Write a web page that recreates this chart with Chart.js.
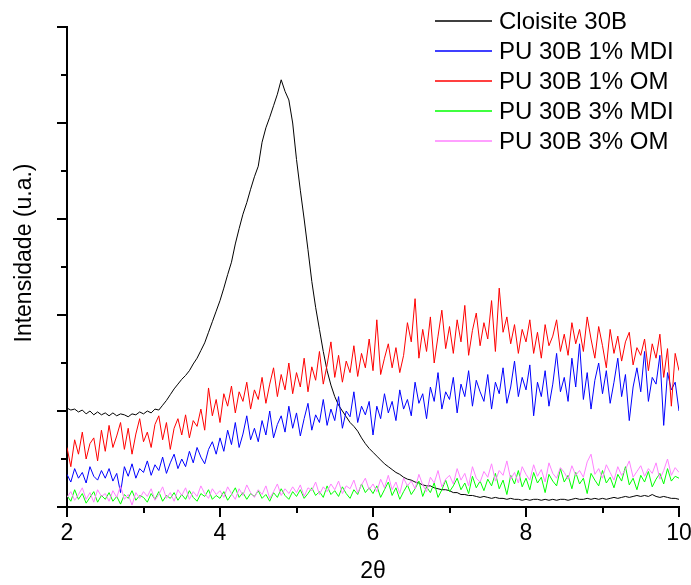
<!DOCTYPE html>
<html>
<head>
<meta charset="utf-8">
<script src="https://cdn.jsdelivr.net/npm/chart.js@4"></script>
<style>
  html, body { margin: 0; padding: 0; background: #fff; }
  #xrd { display: block; }
</style>
</head>
<body>
<canvas id="xrd" width="691" height="585"></canvas>
<script>
// 2theta grid of the scan, 2 to 10 in 0.05 steps
const twoTheta = Array.from({length: 161}, (_, i) => +(2 + i * 0.05).toFixed(2));

const seriesNames = ["Cloisite 30B", "PU 30B 1% MDI", "PU 30B 1% OM", "PU 30B 3% MDI", "PU 30B 3% OM"];
const seriesColors = ["#000000", "#0000ff", "#ff0000", "#00ff00", "#ff80ff"];

const xTickValues = [2, 3, 4, 5, 6, 7, 8, 9, 10];
const yTickValues = [0, 0.5, 1, 1.5, 2, 2.5, 3, 3.5, 4, 4.5, 5];

// intensities (arbitrary units)
const cloisite = [
  1.03, 1.01, 1.02, 0.99, 1.01, 0.97, 1.00, 0.96, 0.99, 0.96,
  0.98, 0.95, 0.98, 0.95, 0.97, 0.96, 0.94, 0.97, 0.96, 0.99,
  0.97, 1.00, 0.98, 1.02, 1.01, 1.06, 1.11, 1.17, 1.23, 1.28,
  1.33, 1.37, 1.42, 1.49, 1.55, 1.63, 1.71, 1.82, 1.93, 2.04,
  2.15, 2.28, 2.42, 2.55, 2.74, 2.90, 3.05, 3.17, 3.31, 3.44,
  3.55, 3.80, 3.95, 4.06, 4.18, 4.30, 4.45, 4.33, 4.24, 4.00,
  3.62, 3.30, 3.00, 2.68, 2.35, 2.08, 1.85, 1.62, 1.42, 1.27,
  1.15, 1.06, 1.00, 0.94, 0.88, 0.84, 0.79, 0.72, 0.66, 0.61,
  0.57, 0.53, 0.49, 0.45, 0.42, 0.39, 0.36, 0.34, 0.31, 0.29,
  0.28, 0.26, 0.25, 0.23, 0.22, 0.22, 0.20, 0.19, 0.18, 0.18,
  0.17, 0.15, 0.15, 0.13, 0.13, 0.12, 0.12, 0.11, 0.10, 0.11,
  0.10, 0.09, 0.10, 0.09, 0.09, 0.08, 0.09, 0.08, 0.08, 0.07,
  0.08, 0.07, 0.08, 0.08, 0.07, 0.08, 0.07, 0.08, 0.07, 0.08,
  0.08, 0.07, 0.08, 0.09, 0.08, 0.08, 0.09, 0.08, 0.09, 0.08,
  0.09, 0.08, 0.09, 0.10, 0.09, 0.10, 0.11, 0.10, 0.11, 0.12,
  0.11, 0.12, 0.11, 0.13, 0.11, 0.10, 0.11, 0.10, 0.09, 0.09,
  0.08
];

const pu1MDI = [
  0.34, 0.26, 0.40, 0.30, 0.36, 0.25, 0.42, 0.32, 0.28, 0.38,
  0.30, 0.40, 0.27, 0.35, 0.15, 0.42, 0.32, 0.45, 0.30, 0.40,
  0.36, 0.48, 0.33, 0.44, 0.38, 0.52, 0.35, 0.46, 0.55, 0.40,
  0.50, 0.42, 0.58, 0.46, 0.62, 0.52, 0.45, 0.60, 0.68, 0.55,
  0.72, 0.58, 0.80, 0.65, 0.88, 0.62, 0.76, 0.95, 0.70, 0.82,
  0.68, 0.90, 0.75, 1.00, 0.72, 0.86, 0.95, 0.78, 1.05, 0.82,
  0.98, 0.74, 0.92, 1.08, 0.80, 0.96, 0.88, 1.12, 0.85, 1.02,
  0.90, 1.15, 0.82, 1.00, 0.94, 1.20, 0.88, 1.05, 0.96, 1.10,
  0.75, 1.05, 0.92, 1.18, 0.98, 1.10, 0.90, 1.22, 1.02, 1.12,
  0.95, 1.30, 1.08, 1.18, 0.92, 1.25, 1.10, 1.40, 1.02, 1.20,
  1.12, 1.35, 0.98, 1.28, 1.15, 1.42, 1.05, 1.32, 1.20, 1.10,
  1.38, 1.02, 1.30, 1.18, 1.45, 1.08, 1.25, 1.52, 1.15, 1.35,
  1.22, 1.48, 0.95, 1.30, 1.15, 1.42, 1.05, 1.28, 1.60, 1.20,
  1.35, 1.10, 1.55, 1.25, 1.70, 1.12, 1.40, 1.02, 1.32, 1.50,
  1.18, 1.42, 1.08, 1.30, 1.55, 1.15, 1.38, 0.90, 1.25, 1.45,
  1.20, 1.62, 1.10, 1.35, 1.28, 1.58, 0.85, 1.40, 1.22, 1.30,
  1.00
];

const pu1OM = [
  0.62, 0.42, 0.70, 0.55, 0.78, 0.50, 0.66, 0.72, 0.48, 0.80,
  0.58, 0.85, 0.62, 0.74, 0.88, 0.60, 0.82, 0.55, 0.76, 0.92,
  0.68, 0.78, 0.62, 0.86, 0.95, 0.70, 0.88, 0.60, 0.82, 0.92,
  0.75, 0.96, 0.72, 0.90, 0.84, 1.02, 0.80, 1.24, 0.95, 1.12,
  0.88, 1.18, 1.05, 1.26, 0.98, 1.20, 1.10, 1.30, 1.02, 1.22,
  1.12, 1.35, 1.08, 1.28, 1.45, 1.15, 1.38, 1.22, 1.50, 1.18,
  1.40, 1.25, 1.55, 1.20, 1.46, 1.32, 1.62, 1.28, 1.48, 1.72,
  1.35, 1.58, 1.30, 1.52, 1.40, 1.68, 1.36, 1.60, 1.45, 1.75,
  1.42, 1.95, 1.38, 1.55, 1.70, 1.45, 1.66, 1.40, 1.58, 1.92,
  1.72, 2.17, 1.55, 1.85, 1.62, 1.98, 1.50, 1.78, 2.05, 1.65,
  1.88, 1.60, 1.95, 1.72, 2.10, 1.58, 1.84, 2.02, 1.68, 1.92,
  1.75, 2.15, 1.62, 2.28, 1.82, 1.98, 1.70, 1.90, 1.60, 1.85,
  1.72, 1.95, 1.60, 1.82, 1.55, 1.90, 1.68, 1.78, 1.95, 1.62,
  1.80, 1.58, 1.92, 1.70, 1.85, 1.62, 1.98, 1.75, 1.55, 1.88,
  1.68, 1.45, 1.85, 1.60, 1.78, 1.52, 1.72, 1.82, 1.48, 1.66,
  1.58, 1.75, 1.42, 1.70, 1.55, 1.80, 1.35, 1.65, 1.05, 1.60,
  1.42
];

const pu3MDI = [
  0.12, 0.06, 0.18, 0.08, 0.14, 0.04, 0.10, 0.16, 0.05, 0.12,
  0.08, 0.15, 0.06, 0.11, 0.03, 0.13, 0.09, 0.17, 0.07, 0.12,
  0.10, 0.05, 0.14, 0.08, 0.16, 0.06, 0.12, 0.09, 0.15, 0.07,
  0.13, 0.08, 0.17, 0.10, 0.06, 0.14, 0.11, 0.18, 0.08, 0.12,
  0.09, 0.16, 0.07, 0.13, 0.20, 0.10, 0.15, 0.08, 0.14, 0.11,
  0.17, 0.09, 0.13, 0.06, 0.15, 0.10, 0.19, 0.12, 0.08, 0.16,
  0.11, 0.18, 0.09, 0.14, 0.20, 0.12, 0.16, 0.10, 0.22, 0.13,
  0.17, 0.11, 0.21, 0.14, 0.09, 0.18, 0.13, 0.24, 0.15, 0.20,
  0.14, 0.22, 0.10, 0.18, 0.26, 0.12, 0.20, 0.08, 0.16, 0.23,
  0.13, 0.19, 0.27, 0.11, 0.21, 0.15, 0.25, 0.10, 0.18, 0.28,
  0.16, 0.22, 0.30, 0.18, 0.25, 0.14, 0.32, 0.20, 0.27, 0.17,
  0.29, 0.22, 0.35, 0.19, 0.28, 0.13, 0.33, 0.24, 0.38, 0.21,
  0.30, 0.18, 0.36, 0.25, 0.31, 0.15, 0.34, 0.27, 0.22, 0.40,
  0.26, 0.33, 0.19, 0.36, 0.24, 0.30, 0.14, 0.35, 0.28, 0.22,
  0.38, 0.25, 0.31, 0.20, 0.34, 0.27, 0.42, 0.23, 0.30, 0.18,
  0.33, 0.26, 0.37, 0.21, 0.29, 0.35, 0.24, 0.40, 0.27, 0.32,
  0.30
];

const pu3OM = [
  0.10, 0.16, 0.07, 0.13, 0.20, 0.08, 0.15, 0.05, 0.18, 0.11,
  0.14, 0.06, 0.17, 0.10, 0.22, 0.08, 0.13, 0.02, 0.15, 0.09,
  0.16, 0.11, 0.19, 0.07, 0.13, 0.21, 0.09, 0.15, 0.06, 0.18,
  0.12, 0.20, 0.08, 0.16, 0.11, 0.22, 0.14, 0.09, 0.19, 0.13,
  0.17, 0.10, 0.21, 0.14, 0.08, 0.19, 0.12, 0.23, 0.15, 0.10,
  0.18, 0.13, 0.22, 0.09, 0.16, 0.24, 0.12, 0.19, 0.14, 0.21,
  0.15, 0.23, 0.11, 0.20, 0.17, 0.26, 0.13, 0.21, 0.16, 0.24,
  0.18, 0.27, 0.14, 0.22, 0.19, 0.28, 0.15, 0.23, 0.30, 0.18,
  0.24, 0.16, 0.29, 0.20, 0.33, 0.18, 0.26, 0.14, 0.30, 0.22,
  0.27, 0.19, 0.34, 0.23, 0.16, 0.31, 0.25, 0.38, 0.21, 0.29,
  0.33, 0.24, 0.40, 0.28, 0.35, 0.22, 0.42, 0.30, 0.26, 0.37,
  0.31, 0.45, 0.27, 0.38, 0.33, 0.48, 0.29, 0.36, 0.25, 0.42,
  0.34, 0.28, 0.44, 0.32, 0.39, 0.26, 0.46, 0.35, 0.30, 0.41,
  0.36, 0.29, 0.43, 0.33, 0.38, 0.31, 0.47, 0.55, 0.34, 0.40,
  0.30, 0.44, 0.36, 0.28, 0.42, 0.33, 0.39, 0.48, 0.31, 0.37,
  0.43, 0.32, 0.40, 0.35, 0.46, 0.29, 0.38, 0.50, 0.33, 0.41,
  0.36
];

const allSeries = [cloisite, pu1MDI, pu1OM, pu3MDI, pu3OM];
const FONT = "'Liberation Sans', Arial, sans-serif";

function toPoints(values) {
    return values.map((v, i) => ({x: twoTheta[i], y: v}));
}

// draws the outward ticks (long/short), the y title and the legend
const xrdDecor = {
    id: "xrdDecor",
    afterDraw(chart) {
        const ctx = chart.ctx;
        const area = chart.chartArea;
        const xs = chart.scales.x;
        const ys = chart.scales.y;
        ctx.save();
        ctx.strokeStyle = "#000";
        ctx.lineWidth = 2;
        ctx.beginPath();
        xTickValues.forEach(v => {
            const px = Math.round(xs.getPixelForValue(v));
            const len = v % 2 === 0 ? 10 : 6;
            ctx.moveTo(px, area.bottom);
            ctx.lineTo(px, area.bottom + len);
        });
        yTickValues.forEach(v => {
            const py = Math.round(ys.getPixelForValue(v));
            const len = v % 1 === 0 ? 10 : 6;
            ctx.moveTo(area.left, py);
            ctx.lineTo(area.left - len, py);
        });
        ctx.stroke();

        // y axis title
        ctx.fillStyle = "#000";
        ctx.font = "23px " + FONT;
        ctx.textAlign = "center";
        ctx.textBaseline = "middle";
        ctx.translate(25, 253);
        ctx.rotate(-Math.PI / 2);
        ctx.fillText("Intensidade (u.a.)", 0, 0);
        ctx.setTransform(1, 0, 0, 1, 0, 0);

        // legend
        ctx.font = "24px " + FONT;
        ctx.textAlign = "left";
        ctx.textBaseline = "middle";
        seriesNames.forEach((name, i) => {
            const y = 21 + i * 30;
            ctx.strokeStyle = seriesColors[i];
            ctx.lineWidth = 1.5;
            ctx.beginPath();
            ctx.moveTo(435, y);
            ctx.lineTo(492, y);
            ctx.stroke();
            ctx.fillStyle = "#000";
            ctx.fillText(name, 499, y + 1);
        });
        ctx.restore();
    }
};

new Chart(document.getElementById("xrd"), {
    type: "line",
    data: {
        datasets: allSeries.map((vals, i) => ({
            label: seriesNames[i],
            data: toPoints(vals),
            borderColor: seriesColors[i],
            borderWidth: 1,
            pointRadius: 0,
            tension: 0,
            fill: false,
            order: 5 - i
        }))
    },
    options: {
        responsive: false,
        animation: false,
        layout: {padding: {top: 27, right: 12, left: 0, bottom: 0}},
        plugins: {
            legend: {display: false},
            tooltip: {enabled: false}
        },
        scales: {
            x: {
                type: "linear",
                min: 2,
                max: 10,
                afterFit: scale => {
                    scale.height = 78;
                    scale.paddingLeft = 0;
                    scale.paddingRight = 0;
                },
                ticks: {
                    stepSize: 2,
                    color: "#000",
                    padding: 13,
                    maxRotation: 0,
                    font: {family: FONT, size: 23}
                },
                grid: {display: true, drawOnChartArea: false, drawTicks: false},
                border: {display: true, color: "#000", width: 2},
                title: {
                    display: true,
                    text: "2θ",
                    color: "#000",
                    font: {family: FONT, size: 23},
                    padding: {top: 0, bottom: 0}
                }
            },
            y: {
                min: 0,
                max: 5,
                afterFit: scale => { scale.width = 67; },
                ticks: {display: false},
                grid: {display: true, drawOnChartArea: false, drawTicks: false},
                border: {display: true, color: "#000", width: 2}
            }
        }
    },
    plugins: [xrdDecor]
});
</script>
</body>
</html>
